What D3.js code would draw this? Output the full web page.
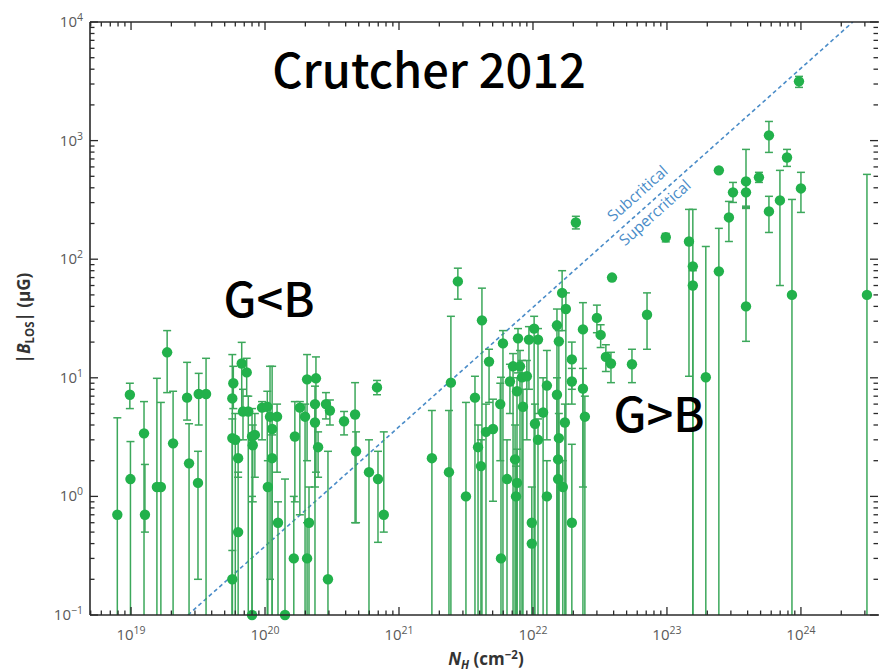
<!DOCTYPE html>
<html>
<head>
<meta charset="utf-8">
<script src="https://cdn.jsdelivr.net/npm/d3@7"></script>
<style>
  html, body { margin: 0; padding: 0; background: #fff; }
  svg { display: block; }
</style>
</head>
<body>
<svg id="chart" width="879" height="671"></svg>
<script>
// ---------- DATA ----------
// Column density N_H (cm^-2)
const nH = [
  7.9e18, 9.8e18, 9.9e18, 1.25e19, 1.27e19, 1.56e19, 1.67e19, 1.86e19, 2.06e19, 2.62e19,
  2.71e19, 3.16e19, 3.2e19, 3.63e19, 5.7e19, 5.8e19, 6.7e19, 7.3e19, 5.7e19, 6.0e19,
  6.3e19, 6.3e19, 5.7e19, 7.5e19, 6.85e19, 8.0e19, 8.4e19, 8.1e19, 8.0e19, 9.5e19,
  1.04e20, 1.09e20, 1.23e20, 1.13e20, 1.13e20, 1.05e20, 1.25e20, 1.41e20, 1.67e20, 1.82e20,
  2.06e20, 2.4e20, 1.99e20, 2.36e20, 2.36e20, 2.49e20, 1.64e20, 2.06e20, 2.13e20, 2.85e20,
  3.05e20, 2.95e20, 3.89e20, 4.7e20, 4.78e20, 5.97e20, 6.97e20, 7.7e20, 6.85e20,
  1.76e21, 2.36e21, 2.44e21, 2.75e21, 3.16e21, 4.16e21, 3.69e21, 3.89e21, 4.09e21, 4.7e21,
  4.46e21, 5.03e21, 5.77e21, 5.7e21, 5.97e21, 6.4e21, 6.73e21, 7.1e21, 7.6e21, 7.73e21,
  7.35e21, 7.6e21, 7.47e21, 8.0e21, 8.28e21, 8.42e21, 9.0e21, 9.33e21, 1.02e22, 1.09e22,
  1.035e22, 1.09e22, 9.8e21, 9.8e21, 1.19e22, 1.27e22, 1.27e22, 1.51e22, 1.56e22, 1.51e22,
  1.56e22, 1.54e22, 1.54e22, 1.67e22, 1.65e22, 1.76e22, 1.73e22, 1.95e22, 1.95e22, 1.95e22,
  2.36e22, 2.36e22, 2.44e22, 3.0e22, 3.2e22, 3.5e22, 3.82e22, 5.48e22, 2.09e22, 3.89e22,
  7.1e22, 9.8e22, 1.46e23, 1.56e23, 1.56e23, 1.95e23, 2.44e23, 2.44e23, 2.9e23, 3.11e23,
  3.89e23, 3.89e23, 3.89e23, 4.86e23, 5.77e23, 5.77e23, 6.97e23, 7.87e23, 8.57e23, 9.67e23,
  1.0e24, 3.11e24
];
// |B_LOS| (microgauss)
const bLos = [
  0.7, 7.2, 1.4, 3.4, 0.7, 1.2, 1.2, 16.4, 2.8, 6.8,
  1.9, 1.3, 7.3, 7.3, 6.7, 9.0, 13.2, 11.1, 3.1, 3.0,
  2.1, 0.5, 0.2, 5.2, 5.2, 3.2, 3.3, 2.7, 0.1, 5.6,
  5.7, 4.7, 4.7, 3.7, 2.1, 1.2, 0.6, 0.1, 3.2, 5.6,
  9.7, 9.9, 4.7, 6.0, 4.2, 2.6, 0.3, 0.3, 0.6, 6.0,
  5.3, 0.2, 4.3, 4.9, 2.4, 1.6, 1.4, 0.7, 8.3,
  2.1, 1.6, 9.1, 65, 1.0, 30.5, 6.8, 2.6, 1.8, 13.7,
  3.5, 3.7, 0.3, 6.0, 19.5, 1.4, 9.3, 12.5, 7.7, 21.5,
  2.05, 1.3, 1.0, 12.5, 10.1, 5.7, 10.3, 21, 26, 21,
  4.1, 3.0, 0.6, 0.4, 5.1, 8.6, 1.0, 27.7, 20.3, 7.2,
  3.1, 2.05, 1.4, 1.2, 52, 38, 4.2, 14.3, 9.3, 0.6,
  25.6, 8.1, 4.7, 32, 23, 15, 13.2, 13, 204, 70,
  34, 153, 141, 87, 60, 10.1, 79, 561, 225, 366,
  453, 366, 40, 490, 1107, 253, 313, 721, 50, 3160,
  395, 50
];
// lower end of error bar (values below the axis run off the plot)
const bLow = [
  0.01, 5.5, 0.01, 0.01, 0.5, 0.01, 0.01, 7.5, 0.01, 4.4,
  0.01, 0.2, 4.0, 0.01, 0.01, 5.5, 5.0, 7.0, 0.01, 0.01,
  1.45, 0.01, 0.01, 0.01, 3.0, 0.01, 1.45, 0.9, 0.01, 3.0,
  0.01, 0.2, 1.6, 0.01, 0.01, 0.01, 0.01, 0.01, 0.9, 0.7,
  2.0, 1.6, 0.01, 0.01, 1.2, 1.45, 0.01, 0.01, 0.01, 4.5,
  4.0, 0.01, 3.3, 0.6, 0.6, 0.01, 0.41, 0.5, 7.2,
  0.01, 0.01, 0.01, 46, 0.01, 0.01, 0.01, 0.01, 0.01, 6.2,
  0.01, 0.91, 0.01, 2.0, 0.01, 0.01, 5.0, 0.01, 0.01, 11,
  0.01, 0.01, 0.01, 0.01, 0.01, 0.01, 3, 8, 0.01, 5,
  0.01, 0.01, 0.01, 0.01, 0.01, 3, 0.01, 0.01, 0.01, 0.01,
  0.01, 0.01, 0.01, 0.01, 25, 0.01, 0.01, 8, 6, 0.01,
  1.2, 0.01, 0.01, 24, 18, 11.3, 9.1, 9.1, 180, 70,
  17.4, 140, 10.3, 0.01, 0.01, 0.01, 0.01, 561, 141, 301,
  274, 280, 20.3, 444, 795, 168, 60, 606, 0.01, 2810,
  248, 0.01
];
// upper end of error bar
const bHigh = [
  4.6, 9.0, 2.9, 6.3, 1.86, 9.9, 6.2, 25, 7.7, 13.5,
  4.1, 2.4, 10.9, 14.6, 15.7, 12.5, 19.9, 14.6, 4.5, 5.0,
  3.0, 1.6, 0.35, 7.0, 8.0, 5.5, 5.0, 4.0, 1.0, 6.3,
  7.7, 12.5, 6.0, 12.5, 3.3, 2.0, 0.9, 1.4, 6.3, 6.3,
  15.7, 15.0, 6.0, 8.5, 6.0, 3.5, 1.0, 0.6, 1.2, 7.5,
  6.5, 2.4, 5.2, 9.1, 3.5, 3.0, 2.4, 3.5, 9.5,
  5.3, 5.3, 33, 84, 6.2, 57, 10.3, 4.0, 3.0, 17.4,
  6.0, 6.6, 10.1, 9.0, 25, 3.0, 13, 16, 10, 26,
  4.0, 2.5, 1.8, 17, 14, 8, 14, 27, 33, 26,
  6, 4.5, 1.2, 0.6, 10, 17, 2.0, 38, 25, 10,
  5, 3, 2, 2, 80, 52, 6, 20, 12, 2.75,
  43, 12, 7, 41, 28, 19, 16.4, 17.4, 230, 70,
  52, 165, 263, 263, 80, 128, 182, 561, 307, 444,
  843, 444, 268, 540, 1450, 339, 561, 843, 319, 3480,
  540, 519
];
// critical mass-to-flux line (two end points) : [N_H, B]
const critN = [2.66e19, 2.44e24];
const critB = [0.1, 1e4];
// tick labels
const xTickExps = [19, 20, 21, 22, 23, 24];
const yTickExps = [-1, 0, 1, 2, 3, 4];
const xDomain = [4.94e18, 3.76e24];
const yDomain = [0.1, 1e4];

// ---------- LAYOUT ----------
const svg = d3.select("#chart");
const L = 90, R = 878, T = 22, B = 615;
const x = d3.scaleLog().domain(xDomain).range([L, R]);
const y = d3.scaleLog().domain(yDomain).range([B, T]);

const green = "#22b14b";
const barGreen = "#3ca85b";
const axisCol = "#2a2a2a";
const labelCol = "#5a5a5a";
const blue = "#4a8cc8";

svg.append("rect").attr("width", 879).attr("height", 671).attr("fill", "#fff");

svg.append("defs").append("clipPath").attr("id", "plotclip")
  .append("rect").attr("x", L).attr("y", T).attr("width", R - L).attr("height", B - T);

// ---------- critical line ----------
svg.append("line")
  .attr("x1", x(critN[0])).attr("y1", y(critB[0]))
  .attr("x2", x(critN[1])).attr("y2", y(critB[1]))
  .attr("stroke", blue).attr("stroke-width", 1.6)
  .attr("stroke-dasharray", "4,3")
  .attr("clip-path", "url(#plotclip)");

const ang = Math.atan2(y(critB[1]) - y(critB[0]), x(critN[1]) - x(critN[0])) * 180 / Math.PI;
function onLine(n) {
  const t = (Math.log10(n) - Math.log10(critN[0])) / (Math.log10(critN[1]) - Math.log10(critN[0]));
  return [x(critN[0]) + t * (x(critN[1]) - x(critN[0])), y(critB[0]) + t * (y(critB[1]) - y(critB[0]))];
}
{
  const p = onLine(7.2e22);
  svg.append("text").attr("transform", `translate(${p[0]},${p[1]}) rotate(${ang}) translate(0,-10)`)
    .attr("text-anchor", "middle").attr("fill", blue)
    .attr("font-family", "'Open Sans', sans-serif").attr("font-size", 15.5)
    .text("Subcritical");
  svg.append("text").attr("transform", `translate(${p[0]},${p[1]}) rotate(${ang}) translate(0,16)`)
    .attr("text-anchor", "middle").attr("fill", blue)
    .attr("font-family", "'Open Sans', sans-serif").attr("font-size", 15.5)
    .text("Supercritical");
}

// ---------- error bars ----------
const data = nH.map((n, i) => ({ n, b: bLos[i], lo: bLow[i], hi: bHigh[i] }));
const eb = svg.append("g").attr("clip-path", "url(#plotclip)")
  .attr("stroke", barGreen).attr("stroke-width", 1.5).attr("fill", "none");
data.forEach(d => {
  if (d.hi === d.lo) return;
  const cx = x(d.n);
  const yHi = y(d.hi), yLo = y(Math.max(d.lo, 1e-3));
  eb.append("line").attr("x1", cx).attr("x2", cx).attr("y1", yHi).attr("y2", yLo);
  eb.append("line").attr("x1", cx - 4).attr("x2", cx + 4).attr("y1", yHi).attr("y2", yHi);
  if (d.lo > 0.1) eb.append("line").attr("x1", cx - 4).attr("x2", cx + 4).attr("y1", yLo).attr("y2", yLo);
});

// ---------- points ----------
svg.append("g").selectAll("circle").data(data).join("circle")
  .attr("cx", d => x(d.n)).attr("cy", d => y(d.b)).attr("r", 5.2)
  .attr("fill", green);

// ---------- axes ----------
const ax = svg.append("g").attr("stroke", axisCol).attr("stroke-width", 1.6);
ax.append("line").attr("x1", L).attr("x2", R + 1).attr("y1", T).attr("y2", T);
ax.append("line").attr("x1", L).attr("x2", R + 1).attr("y1", B).attr("y2", B);
ax.append("line").attr("x1", L).attr("x2", L).attr("y1", T).attr("y2", B);

const xTicks = [];
for (let e = 18; e <= 24; e++) for (let m = 1; m <= 9; m++) {
  const v = m * Math.pow(10, e);
  if (v >= xDomain[0] && v <= xDomain[1]) xTicks.push({ v, major: m === 1 });
}
const yTicks = [];
for (let e = -1; e <= 3; e++) for (let m = 1; m <= 9; m++) yTicks.push({ v: m * Math.pow(10, e), major: m === 1 });
yTicks.push({ v: 1e4, major: true });

const tk = svg.append("g").attr("stroke", axisCol).attr("stroke-width", 1.3);
xTicks.forEach(t => {
  const px = x(t.v), len = t.major ? 8 : 4.5;
  tk.append("line").attr("x1", px).attr("x2", px).attr("y1", B).attr("y2", B - len);
  tk.append("line").attr("x1", px).attr("x2", px).attr("y1", T).attr("y2", T + len);
});
yTicks.forEach(t => {
  const py = y(t.v), len = t.major ? 8 : 4.5;
  tk.append("line").attr("x1", L).attr("x2", L + len).attr("y1", py).attr("y2", py);
  tk.append("line").attr("x1", R).attr("x2", R - len).attr("y1", py).attr("y2", py);
});

const font = "'Open Sans', 'Noto Sans', sans-serif";
// x tick labels
xTickExps.forEach(e => {
  const t = svg.append("text").attr("x", x(Math.pow(10, e))).attr("y", 640)
    .attr("text-anchor", "middle").attr("fill", labelCol)
    .attr("font-family", font).attr("font-size", 15);
  t.append("tspan").text("10");
  t.append("tspan").attr("dy", -6).attr("font-size", 10.5).text(String(e));
});
// y tick labels
yTickExps.forEach(e => {
  const t = svg.append("text").attr("x", 83).attr("y", y(Math.pow(10, e)) + 5)
    .attr("text-anchor", "end").attr("fill", labelCol)
    .attr("font-family", font).attr("font-size", 15);
  t.append("tspan").text("10");
  t.append("tspan").attr("dy", -6).attr("font-size", 10.5).text(e < 0 ? "\u2212" + (-e) : String(e));
});

// axis titles
{
  const t = svg.append("text").attr("x", 486).attr("y", 665).attr("text-anchor", "middle")
    .attr("fill", "#333").attr("font-family", font).attr("font-size", 17).attr("font-weight", "bold");
  t.append("tspan").attr("font-style", "italic").text("N");
  t.append("tspan").attr("dy", 4).attr("font-size", 11.5).attr("font-style", "italic").text("H");
  t.append("tspan").attr("dy", -4).text(" (cm");
  t.append("tspan").attr("dy", -6).attr("font-size", 11.5).text("\u22122");
  t.append("tspan").attr("dy", 6).text(")");
}
{
  const t = svg.append("text").attr("transform", "translate(30,318) rotate(-90)").attr("text-anchor", "middle")
    .attr("fill", "#333").attr("font-family", font).attr("font-size", 17).attr("font-weight", "bold");
  t.append("tspan").text("|");
  t.append("tspan").attr("font-style", "italic").text("B");
  t.append("tspan").attr("dy", 4).attr("font-size", 11.5).text("LOS");
  t.append("tspan").attr("dy", -4).text("| (\u03bcG)");
}

// annotations
const annFont = "'Noto Sans CJK SC', 'Noto Sans', sans-serif";
svg.append("text").attr("x", 429).attr("y", 88).attr("text-anchor", "middle")
  .attr("font-family", annFont).attr("font-size", 47).attr("font-weight", 500).attr("fill", "#000").text("Crutcher 2012");
svg.append("text").attr("x", 269).attr("y", 317).attr("text-anchor", "middle")
  .attr("font-family", annFont).attr("font-size", 47).attr("font-weight", 500).attr("fill", "#000").text("G<B");
svg.append("text").attr("x", 659).attr("y", 432).attr("text-anchor", "middle")
  .attr("font-family", annFont).attr("font-size", 47).attr("font-weight", 500).attr("fill", "#000").text("G>B");
</script>
</body>
</html>
